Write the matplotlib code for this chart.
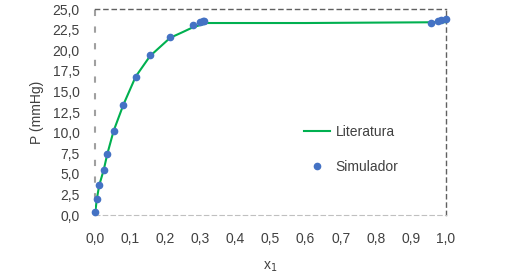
import matplotlib
matplotlib.use('Agg')
import matplotlib.pyplot as plt
from matplotlib.ticker import FuncFormatter

plt.rcParams['font.family'] = ['Liberation Sans', 'DejaVu Sans']

# Simulador (pontos)
sim_x = [0.0, 0.005, 0.012, 0.025, 0.035, 0.053, 0.081, 0.116, 0.157,
         0.214, 0.28, 0.299, 0.308, 0.311, 0.957, 0.978, 0.985, 0.999]
sim_p = [0.4, 1.9, 3.6, 5.5, 7.4, 10.2, 13.4, 16.8, 19.4,
         21.6, 23.1, 23.4, 23.5, 23.6, 23.3, 23.6, 23.7, 23.8]

# Literatura (curva)
lit_x = [0.0, 0.005, 0.012, 0.025, 0.035, 0.053, 0.081, 0.116, 0.157,
         0.214, 0.25, 0.28, 0.32, 0.6, 1.0]
lit_p = [0.0, 1.9, 3.6, 5.5, 7.4, 10.2, 13.4, 16.8, 19.3,
         21.5, 22.2, 22.8, 23.3, 23.3, 23.4]

xticks = [i / 10 for i in range(11)]
yticks = [i * 2.5 for i in range(11)]

txt = '#404040'
fs = 10

fig = plt.figure(figsize=(5.24, 2.78), dpi=100)
ax = fig.add_axes([0.1813, 0.2266, 0.6697, 0.741])

ax.plot(lit_x, lit_p, color='#00B050', lw=1.5, label='Literatura', zorder=2)
ax.plot(sim_x, sim_p, 'o', color='#4472C4', ms=4.5, mec='#4472C4',
        label='Simulador', zorder=3, clip_on=False)

ax.set_xlim(0, 1.0)
ax.set_ylim(0, 25)
ax.set_xticks(xticks)
ax.set_yticks(yticks)
fmt = FuncFormatter(lambda v, p: f'{v:.1f}'.replace('.', ','))
ax.xaxis.set_major_formatter(fmt)
ax.yaxis.set_major_formatter(fmt)
ax.tick_params(length=0, labelsize=fs, colors=txt, pad=12)
ax.tick_params(axis='y', pad=11)

for s in ['top', 'right']:
    ax.spines[s].set_linestyle((0, (3, 3)))
    ax.spines[s].set_color('#606060')
    ax.spines[s].set_linewidth(1)
ax.spines['bottom'].set_linestyle((0, (4, 3)))
ax.spines['bottom'].set_color('#c0c0c0')
ax.spines['left'].set_linestyle((0, (2, 6)))
ax.spines['left'].set_color('#a0a0a0')
ax.spines['left'].set_linewidth(1.5)

ax.set_xlabel('x$_1$', fontsize=fs, color=txt, labelpad=10)
ax.set_ylabel('P (mmHg)', fontsize=fs, color=txt, labelpad=6)

leg = ax.legend(loc='center', bbox_to_anchor=(0.73, 0.32), frameon=False,
                fontsize=fs, labelcolor=txt, handlelength=1.9,
                labelspacing=1.5, handletextpad=0.4)

fig.savefig('out.png', dpi=100)
